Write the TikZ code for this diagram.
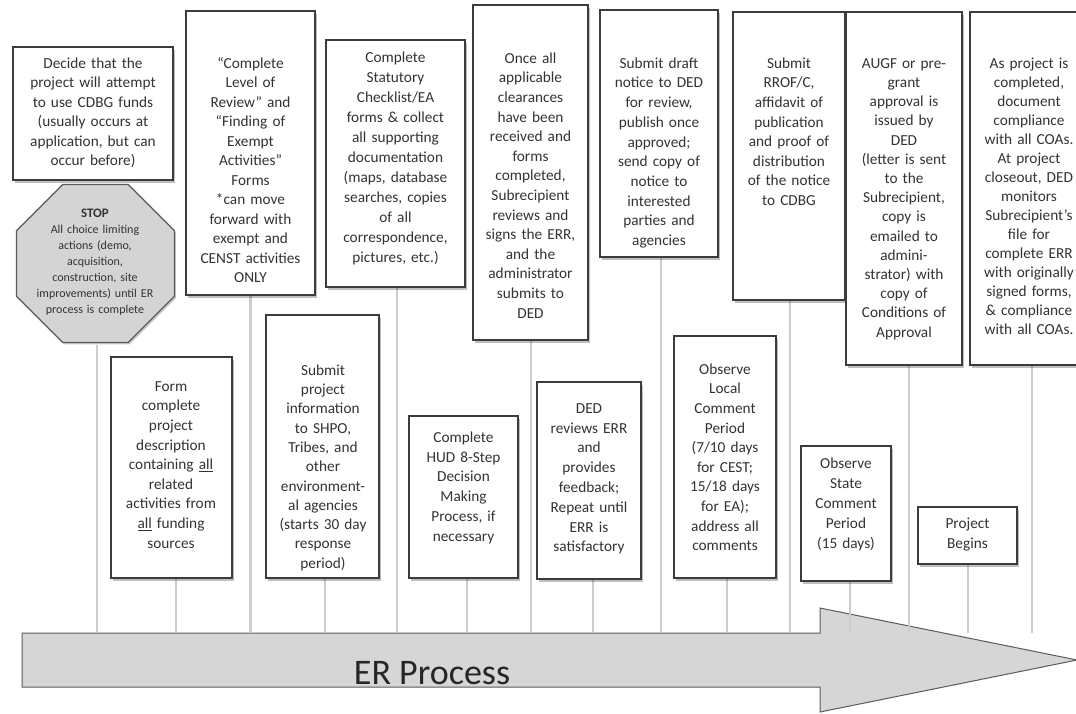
\documentclass[tikz,border=0pt]{standalone}
\usepackage{fontspec}
\setmainfont{Carlito}
\usetikzlibrary{shapes.geometric,shadows}
\definecolor{boxc}{HTML}{3C3C3C}
\definecolor{txtc}{HTML}{333333}
\definecolor{linec}{HTML}{CDCDCD}
\definecolor{stopfill}{HTML}{D4D4D4}
\definecolor{arrfill}{HTML}{D6D6D6}
\definecolor{arrline}{HTML}{5A5A5A}
\tikzset{
  stepbox/.style={draw=boxc, line width=2.6pt, fill=white, inner sep=0pt,
    drop shadow={shadow xshift=2pt, shadow yshift=-2.5pt, fill=black, opacity=0.25}},
  txt/.style={font=\fontsize{15.3}{19.5}\selectfont, text=txtc, align=center,
    inner sep=0pt, text height=11pt, anchor=north, text width=150pt},
  vline/.style={draw=linec, line width=2.8pt},
  stopshape/.style={regular polygon, regular polygon sides=8, minimum size=171pt,
    draw=arrline, line width=1.3pt, fill=stopfill, inner sep=0pt,
    drop shadow={shadow xshift=1.5pt, shadow yshift=-2pt, fill=black, opacity=0.2}},
}
\begin{document}
\begin{tikzpicture}[x=1pt,y=-1pt]
\useasboundingbox (0,0) rectangle (1076,713);
% arrow
\draw[fill=arrfill, draw=arrline, line width=1pt]
  (22,633) -- (820,633) -- (820,608) -- (1077,660) -- (820,712) -- (820,687) -- (22,687) -- cycle;
\coordinate (atop) at (0,633);
\node[font=\fontsize{36}{40}\selectfont, text=black!85, anchor=base, inner sep=0pt] (er) at (432,684) {ER Process};

\path
  (93,113.5)   coordinate (c1)
  (250.5,153)  coordinate (c2)
  (395.5,163.5) coordinate (c3)
  (530.5,172.5) coordinate (c4)
  (659,133.5)  coordinate (c5)
  (789,156)    coordinate (c6)
  (904,188.5)  coordinate (c7)
  (1030,188.5) coordinate (c8);

% vertical timeline lines
\draw[vline] (250.5,295) coordinate (l2) -- (l2 |- atop);
\draw[vline] (397,287) coordinate (l3) -- (l3 |- atop);
\draw[vline] (531,340) coordinate (l4) -- (l4 |- atop);
\draw[vline] (661,257) coordinate (l5) -- (l5 |- atop);
\draw[vline] (790,300) coordinate (l6) -- (l6 |- atop);
\draw[vline] (909,365) coordinate (l7) -- (l7 |- atop);
\draw[vline] (1032,365) coordinate (l8) -- (l8 |- atop);
\draw[vline] (97,345) coordinate (l0) -- (l0 |- atop);
\draw[vline] (176,578) coordinate (m1) -- (m1 |- atop);
\draw[vline] (325,578) coordinate (m2) -- (m2 |- atop);
\draw[vline] (467,578) coordinate (m3) -- (m3 |- atop);
\draw[vline] (593,579) coordinate (m4) -- (m4 |- atop);
\draw[vline] (727,578) coordinate (m5) -- (m5 |- atop);
\draw[vline] (850,581) coordinate (m6) -- (m6 |- atop);
\draw[vline] (968,564) coordinate (m7) -- (m7 |- atop);

% top row boxes
\node[stepbox, minimum width=160pt, minimum height=133pt] (b1) at (c1) {};
\node[stepbox, minimum width=129pt, minimum height=284pt] (b2) at (c2) {};
\node[stepbox, minimum width=139pt, minimum height=247pt] (b3) at (c3) {};
\node[stepbox, minimum width=115pt, minimum height=335pt] (b4) at (c4) {};
\node[stepbox, minimum width=118pt, minimum height=247pt] (b5) at (c5) {};
\node[stepbox, minimum width=112pt, minimum height=288pt] (b6) at (c6) {};
\node[stepbox, minimum width=116pt, minimum height=353pt] (b7) at (c7) {};
\node[stepbox, minimum width=120pt, minimum height=353pt] (b8) at (c8) {};

% bottom row boxes
\node[stepbox, minimum width=121pt, minimum height=221pt] (f1) at (171.5,467.5) {};
\node[stepbox, minimum width=113pt, minimum height=263pt] (f2) at (322.5,446.5) {};
\node[stepbox, minimum width=109pt, minimum height=162pt] (f3) at (463.5,497) {};
\node[stepbox, minimum width=104pt, minimum height=197pt] (f4) at (589,480.5) {};
\node[stepbox, minimum width=102pt, minimum height=242pt] (f5) at (725,457) {};
\node[stepbox, minimum width=90pt, minimum height=135pt] (f6) at (846,513.5) {};
\node[stepbox, minimum width=99pt, minimum height=57pt] (f7) at (967.5,535.5) {};

% stop octagon
\node[stopshape] (stop) at (95.5,263.5) {};
\node[txt, font=\fontsize{12}{16}\selectfont, text height=10pt] (stoptxt) at (95,207)
  {{\fontsize{13}{16}\selectfont\bfseries STOP}\\All choice limiting\\actions (demo,\\acquisition,\\construction, site\\improvements) until ER\\process is complete};

% top texts
\node[txt] (t1) at (93,57) {Decide that the\\project will attempt\\to use CDBG funds\\(usually occurs at\\application, but can\\occur before)};
\node[txt] (t2) at (250.5,57) {“Complete\\Level of\\Review” and\\“Finding of\\Exempt\\Activities”\\Forms\\{*}can move\\forward with\\exempt and\\CENST activities\\ONLY};
\node[txt, font=\fontsize{15.3}{20}\selectfont] (t3) at (395.5,51) {Complete\\Statutory\\Checklist/EA\\forms \& collect\\all supporting\\documentation\\(maps, database\\searches, copies\\of all\\correspondence,\\pictures, etc.)};
\node[txt, font=\fontsize{15.3}{19.6}\selectfont] (t4) at (530.5,52) {Once all\\applicable\\clearances\\have been\\received and\\forms\\completed,\\Subrecipient\\reviews and\\signs the ERR,\\and the\\administrator\\submits to\\DED};
\node[txt, font=\fontsize{15.3}{19.7}\selectfont] (t5) at (659,57) {Submit draft\\notice to DED\\for review,\\publish once\\approved;\\send copy of\\notice to\\interested\\parties and\\agencies};
\node[txt, font=\fontsize{15.3}{19.6}\selectfont] (t6) at (789,57) {Submit\\RROF/C,\\affidavit of\\publication\\and proof of\\distribution\\of the notice\\to CDBG};
\node[txt, font=\fontsize{15.3}{19.2}\selectfont] (t7) at (904,57) {AUGF or pre-\\grant\\approval is\\issued by\\DED\\(letter is sent\\to the\\Subrecipient,\\copy is\\emailed to\\admini-\\strator) with\\copy of\\Conditions of\\Approval};
\node[txt, font=\fontsize{15.3}{19.0}\selectfont] (t8) at (1029,57) {As project is\\completed,\\document\\compliance\\with all COAs.\\At project\\closeout, DED\\monitors\\Subrecipient’s\\file for\\complete ERR\\with originally\\signed forms,\\\& compliance\\with all COAs.};

% bottom texts
\node[txt, font=\fontsize{15.3}{19.6}\selectfont] (u1) at (171,380) {Form\\complete\\project\\description\\containing \underline{all}\\related\\activities from\\\underline{all} funding\\sources};
\node[txt, font=\fontsize{15.3}{19.3}\selectfont] (u2) at (323,364) {Submit\\project\\information\\to SHPO,\\Tribes, and\\other\\environment-\\al agencies\\(starts 30 day\\response\\period)};
\node[txt, font=\fontsize{15.3}{19.8}\selectfont] (u3) at (463.5,431) {Complete\\HUD 8-Step\\Decision\\Making\\Process, if\\necessary};
\node[txt, font=\fontsize{15.3}{19.8}\selectfont] (u4) at (589,402) {DED\\reviews ERR\\and\\provides\\feedback;\\Repeat until\\ERR is\\satisfactory};
\node[txt, font=\fontsize{15.3}{19.6}\selectfont] (u5) at (725,363) {Observe\\Local\\Comment\\Period\\(7/10 days\\for CEST;\\15/18 days\\for EA);\\address all\\comments};
\node[txt, font=\fontsize{15.3}{20}\selectfont] (u6) at (846,457) {Observe\\State\\Comment\\Period\\(15 days)};
\node[txt, font=\fontsize{15.3}{20}\selectfont] (u7) at (967.5,517) {Project\\Begins};
\end{tikzpicture}
\end{document}
